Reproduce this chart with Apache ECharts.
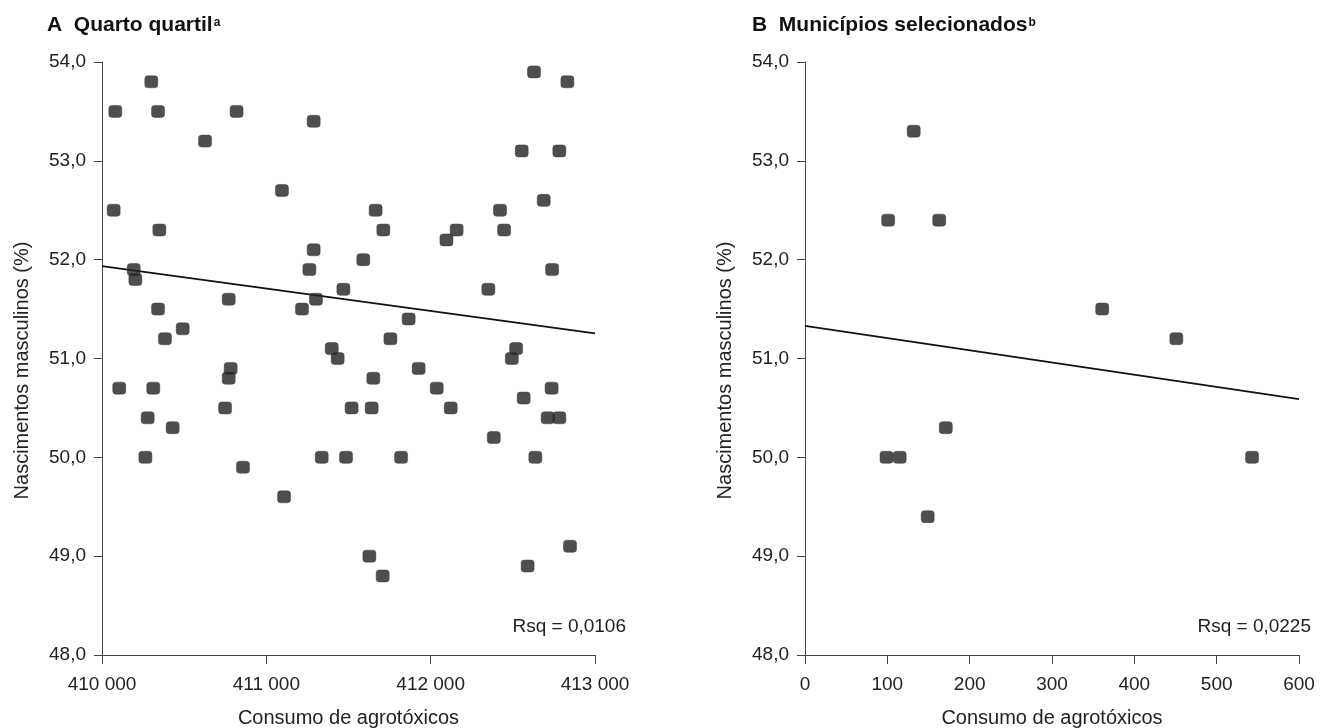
<!DOCTYPE html>
<html>
<head>
<meta charset="utf-8">
<script src="https://cdn.jsdelivr.net/npm/echarts@6/dist/echarts.min.js"></script>
<style>
html,body{margin:0;padding:0;background:#fff;}
#c{width:1323px;height:728px;}
</style>
</head>
<body>
<div id="c"></div>
<script>
// ---- Data ----
const titleA = 'A  Quarto quartil';
const supA = 'a';
const titleB = 'B  Municípios selecionados';
const supB = 'b';
const yAxisName = 'Nascimentos masculinos (%)';
const xAxisName = 'Consumo de agrotóxicos';
const rsqA = 'Rsq = 0,0106';
const rsqB = 'Rsq = 0,0225';

const pointsA = [
  [410081,53.5],[410300,53.8],[410341,53.5],[410627,53.2],[410819,53.5],
  [410071,52.5],[410349,52.3],[411095,52.7],[411288,53.4],[411288,52.1],
  [411262,51.9],[411302,51.6],[411217,51.5],[411469,51.7],[410193,51.9],
  [410203,51.8],[410341,51.5],[410771,51.6],[410491,51.3],[410383,51.2],
  [412629,53.9],[412832,53.8],[412554,53.1],[412783,53.1],[412688,52.6],
  [411665,52.5],[412422,52.5],[411712,52.3],[412158,52.3],[412096,52.2],
  [412447,52.3],[411590,52.0],[412351,51.7],[412739,51.9],[411866,51.4],
  [411755,51.2],[410105,50.7],[410312,50.7],[410278,50.4],[410430,50.3],
  [410264,50.0],[410749,50.5],[410771,50.8],[410783,50.9],[410858,49.9],
  [411108,49.6],[411337,50.0],[411398,51.1],[411434,51.0],[411519,50.5],
  [411485,50.0],[411927,50.9],[411651,50.8],[412037,50.7],[411641,50.5],
  [412122,50.5],[411820,50.0],[412520,51.1],[412494,51.0],[412566,50.6],
  [412736,50.7],[412712,50.4],[412783,50.4],[412384,50.2],[412637,50.0],
  [411627,49.0],[411708,48.8],[412590,48.9],[412848,49.1]
];
const fitA = [[410000,51.935],[413000,51.255]];

const pointsB = [
  [132,53.3],[101,52.4],[163,52.4],[99,50.0],[115,50.0],
  [171,50.3],[149,49.4],[361,51.5],[451,51.2],[543,50.0]
];
const fitB = [[0,51.33],[600,50.59]];

const yMin = 48, yMax = 54, yStep = 1;
const xMinA = 410000, xMaxA = 413000, xStepA = 1000;
const xMinB = 0, xMaxB = 600, xStepB = 100;

// ---- Chart ----
const FONT = '"Liberation Sans", Arial, Helvetica, sans-serif';
const TXT = '#222';
const AX = '#444';

function yAxis(idx){
  return {
    gridIndex: idx, type:'value', min:yMin, max:yMax, interval:yStep,
    name: yAxisName, nameLocation:'middle', nameGap:70,
    nameTextStyle:{fontFamily:FONT, fontSize:20, color:TXT, padding:[0,24,0,0]},
    axisLine:{show:true, lineStyle:{color:AX, width:1}},
    axisTick:{show:true, length:8, lineStyle:{color:AX}},
    axisLabel:{fontFamily:FONT, fontSize:19, color:TXT, margin:16,
      formatter: v => v.toFixed(1).replace('.', ',')},
    splitLine:{show:false}
  };
}
function xAxis(idx, mn, mx, st, fmt){
  return {
    gridIndex: idx, type:'value', min:mn, max:mx, interval:st,
    name: xAxisName, nameLocation:'middle', nameGap:53,
    nameTextStyle:{fontFamily:FONT, fontSize:20, color:TXT, verticalAlign:'top'},
    axisLine:{show:true, onZero:false, lineStyle:{color:AX, width:1}},
    axisTick:{show:true, length:9, lineStyle:{color:AX}},
    axisLabel:{fontFamily:FONT, fontSize:19, color:TXT, margin:20, formatter: fmt},
    splitLine:{show:false}
  };
}
const fmtThousands = v => String(v).replace(/\B(?=(\d{3})+(?!\d))/g, ' ');

const markerStyle = {color:'#222', borderColor:'#3a3a3a', borderWidth:0.6};

function titleRich(t, s, left){
  return {
    text: '{b|' + t + '}{s|' + s + '}',
    left: left, top: 13, padding: 0,
    textStyle:{
      rich:{
        b:{fontFamily:FONT, fontSize:21, fontWeight:'bold', color:'#111', lineHeight:24},
        s:{fontFamily:FONT, fontSize:12, fontWeight:'bold', color:'#111', lineHeight:14, verticalAlign:'top', padding:[4,0,0,1]}
      }
    }
  };
}

const option = {
  backgroundColor:'#fff',
  animation:false,
  title:[ titleRich(titleA, supA, 47), titleRich(titleB, supB, 752) ],
  grid:[
    {left:102, top:62, width:493, height:593, containLabel:false, outerBoundsMode:'none'},
    {left:805, top:62, width:494, height:593, containLabel:false, outerBoundsMode:'none'}
  ],
  xAxis:[ xAxis(0, xMinA, xMaxA, xStepA, fmtThousands), xAxis(1, xMinB, xMaxB, xStepB, v => String(v)) ],
  yAxis:[ yAxis(0), yAxis(1) ],
  series:[
    {type:'scatter', xAxisIndex:0, yAxisIndex:0, data:pointsA, symbol:'roundRect', symbolSize:[13,12], itemStyle:markerStyle, z:3},
    {type:'line', xAxisIndex:0, yAxisIndex:0, data:fitA, symbol:'none', lineStyle:{color:'#111', width:1.8}, z:2},
    {type:'scatter', xAxisIndex:1, yAxisIndex:1, data:pointsB, symbol:'roundRect', symbolSize:[13,12], itemStyle:markerStyle, z:3},
    {type:'line', xAxisIndex:1, yAxisIndex:1, data:fitB, symbol:'none', lineStyle:{color:'#111', width:1.8}, z:2}
  ],
  graphic:[
    {type:'text', x:626, y:627, style:{text:rsqA, font:'19px '+FONT, fill:TXT, textAlign:'right', textVerticalAlign:'middle'}},
    {type:'text', x:1311, y:627, style:{text:rsqB, font:'19px '+FONT, fill:TXT, textAlign:'right', textVerticalAlign:'middle'}}
  ]
};

const chart = echarts.init(document.getElementById('c'), null, {renderer:'canvas'});
chart.setOption(option);
</script>
</body>
</html>
